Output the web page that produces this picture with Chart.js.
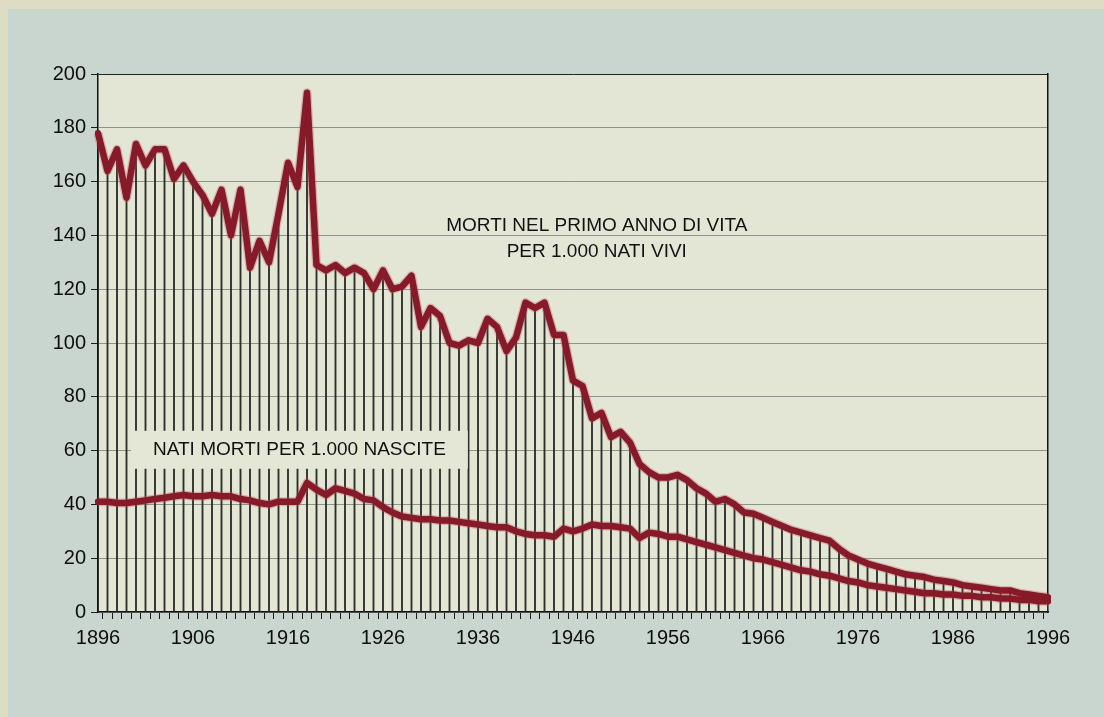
<!DOCTYPE html>
<html>
<head>
<meta charset="utf-8">
<script src="https://cdn.jsdelivr.net/npm/chart.js@4.4.1/dist/chart.umd.min.js"></script>
<style>
  html, body { margin: 0; padding: 0; background: #c9d5cf; }
  #wrap { width: 1104px; height: 717px; }
</style>
</head>
<body>
<div id="wrap"><canvas id="c" width="1104" height="717"></canvas></div>
<script>
// ---- DATA ----
const years = [];
for (let y = 1896; y <= 1996; y++) years.push(y);

// Morti nel primo anno di vita per 1.000 nati vivi
const infantMortality = [
  178,164,172,154,174,166,172,172,161,166,
  160,155,148,157,140,157,128,138,130,148,
  167,158,193,129,127,129,126,128,126,120,
  127,120,121,125,106,113,110,100,99,101,
  100,109,106,97,102,115,113,115,103,103,
  86,84,72,74,65,67,63,55,52,50,
  50,51,49,46,44,41,42,40,37,36.5,
  35,33.5,32,30.5,29.5,28.5,27.5,26.5,23.5,21,
  19.5,18,17,16,15,14,13.5,13,12,11.5,
  11,10,9.5,9,8.5,8,8,7,6.5,6,
  5.5
];

// Nati morti per 1.000 nascite
const stillbirths = [
  41,41,40.5,40.5,41,41.5,42,42.5,43,43.5,
  43,43,43.5,43,43,42,41.5,40.5,40,41,
  41,41,48,45.5,43.5,46,45,44,42,41.5,
  39,37,35.5,35,34.5,34.5,34,34,33.5,33,
  32.5,32,31.5,31.5,30,29,28.5,28.5,28,31,
  30,31,32.5,32,32,31.5,31,27.5,29.5,29,
  28,28,27,26,25,24,23,22,21,20,
  19.5,18.5,17.5,16.5,15.5,15,14,13.5,12.5,11.5,
  11,10,9.5,9,8.5,8,7.5,7,7,6.5,
  6.5,6,6,5.5,5.5,5,5,4.5,4.5,4,
  4
];

const yTicks = [0,20,40,60,80,100,120,140,160,180,200];
const labelInfant = ["MORTI NEL PRIMO ANNO DI VITA", "PER 1.000 NATI VIVI"];
const labelStill = "NATI MORTI PER 1.000 NASCITE";

// ---- STYLE ----
const FONT = '"Liberation Sans", Arial, Helvetica, sans-serif';
const RED = '#861a29';
const HALO = 'rgba(190,80,95,0.35)';

const bgPlugin = {
  id: 'bg',
  beforeDraw(chart) {
    const ctx = chart.ctx, a = chart.chartArea;
    ctx.save();
    ctx.fillStyle = '#c9d5cf';
    ctx.fillRect(0, 0, chart.width, chart.height);
    ctx.fillStyle = '#dedcc3';
    ctx.fillRect(0, 0, chart.width, 9);
    ctx.fillRect(0, 0, 8, chart.height);
    ctx.fillStyle = '#e3e6d5';
    ctx.fillRect(a.left, a.top, a.right - a.left, a.bottom - a.top);
    ctx.restore();
  }
};

const textPlugin = {
  id: 'texts',
  afterDatasetsDraw(chart) {
    const ctx = chart.ctx;
    const xs = chart.scales.x, ys = chart.scales.y;
    ctx.save();
    ctx.fillStyle = '#111';
    ctx.textAlign = 'center';
    ctx.textBaseline = 'middle';
    ctx.font = '19px ' + FONT;
    // upper label
    const ux = xs.getPixelForValue(52.5);
    ctx.fillText(labelInfant[0], ux, ys.getPixelForValue(143.5));
    ctx.fillText(labelInfant[1], ux, ys.getPixelForValue(133.8));
    // lower label with box
    const lx = xs.getPixelForValue(21.2);
    const ly = ys.getPixelForValue(60.3);
    const w = ctx.measureText(labelStill).width;
    ctx.fillStyle = '#e4e6d6';
    ctx.fillRect(lx - w / 2 - 22, ly - 19, w + 44, 38);
    ctx.fillStyle = '#111';
    ctx.fillText(labelStill, lx, ly);
    ctx.restore();
  }
};

new Chart(document.getElementById('c'), {
  data: {
    labels: years,
    datasets: [
      {
        type: 'line', label: 'infant', data: infantMortality,
        borderColor: RED, borderWidth: 6.5, pointRadius: 0, tension: 0,
        borderJoinStyle: 'round', borderCapStyle: 'round', order: 1
      },
      {
        type: 'line', label: 'still', data: stillbirths,
        borderColor: RED, borderWidth: 6.5, pointRadius: 0, tension: 0,
        borderJoinStyle: 'round', borderCapStyle: 'round', order: 1
      },
      {
        type: 'line', label: 'infantHalo', data: infantMortality,
        borderColor: HALO, borderWidth: 9, pointRadius: 0, tension: 0,
        borderJoinStyle: 'round', order: 2
      },
      {
        type: 'line', label: 'stillHalo', data: stillbirths,
        borderColor: HALO, borderWidth: 9, pointRadius: 0, tension: 0,
        borderJoinStyle: 'round', order: 2
      },
      {
        type: 'bar', label: 'stems', data: infantMortality,
        backgroundColor: '#2e2e2b', barThickness: 1.2, order: 3
      }
    ]
  },
  options: {
    responsive: false,
    animation: false,
    events: [],
    layout: { padding: { left: 0, right: 56, top: 74, bottom: 45 } },
    plugins: { legend: { display: false }, tooltip: { enabled: false } },
    scales: {
      x: {
        type: 'category',
        offset: false,
        grid: { drawOnChartArea: false, drawTicks: true, tickLength: 7, tickColor: '#1a1a1a', lineWidth: 1 },
        border: { color: '#111', width: 1.5 },
        ticks: {
          autoSkip: false, maxRotation: 0, minRotation: 0, padding: 7,
          color: '#0d0d0d', font: { family: FONT, size: 20 },
          callback: (v, i) => ((years[i] - 1896) % 10 === 0 ? String(years[i]) : '')
        },
        afterFit: s => { s.height = 60; }
      },
      y: {
        min: 0, max: 200,
        afterBuildTicks: s => { s.ticks = yTicks.map(v => ({ value: v })); },
        grid: {
          color: c => (c.tick && c.tick.value === 200 ? '#222' : '#8d928a'),
          lineWidth: 1, tickLength: 7, tickColor: '#1a1a1a'
        },
        border: { color: '#111', width: 1.5 },
        ticks: { padding: 5, color: '#0d0d0d', font: { family: FONT, size: 20 } },
        afterFit: s => { s.width = 98; }
      },
      y2: {
        position: 'right', min: 0, max: 200,
        grid: { drawOnChartArea: false, drawTicks: false },
        border: { color: '#111', width: 1.5 },
        ticks: { display: false },
        afterFit: s => { s.width = 0; }
      }
    }
  },
  plugins: [bgPlugin, textPlugin]
});
</script>
</body>
</html>
